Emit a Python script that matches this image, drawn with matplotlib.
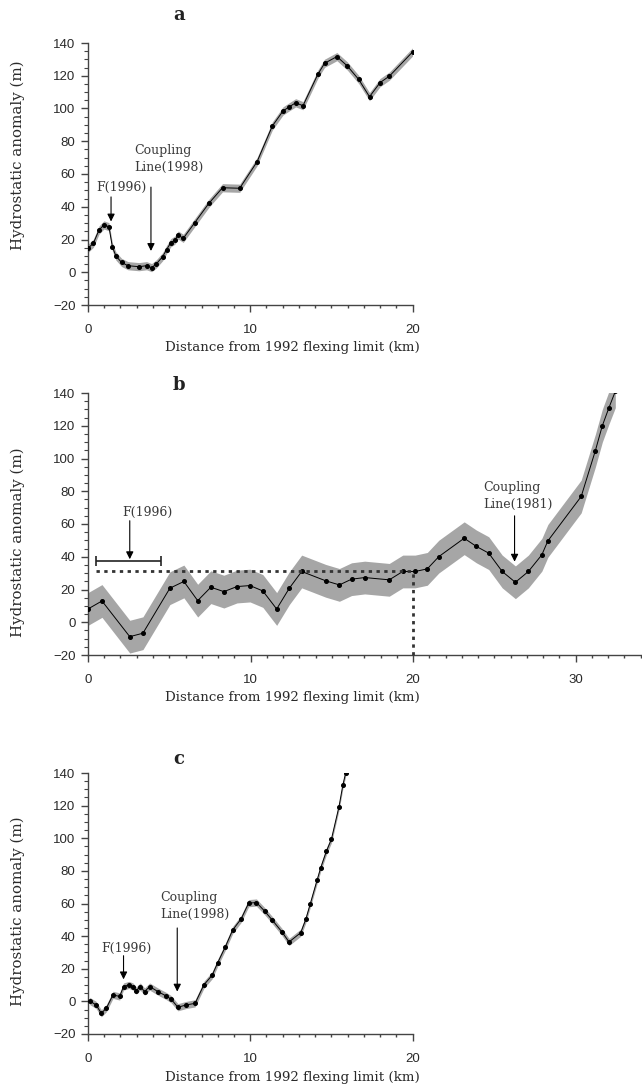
import matplotlib
matplotlib.use("Agg")
import matplotlib.pyplot as plt
from matplotlib.ticker import MultipleLocator
import numpy as np

# ---------------- data ----------------
# Panel a
xa = [0.0, 0.33, 0.68, 0.98, 1.29, 1.5, 1.72, 2.07, 2.46, 3.14, 3.61, 3.92, 4.2, 4.6,
      4.84, 5.1, 5.35, 5.56, 5.87, 6.58, 7.45, 8.29, 9.35, 10.42, 11.36, 12.02, 12.4,
      12.8, 13.25, 14.17, 14.58, 15.34, 15.98, 16.68, 17.35, 18.0, 18.58, 20.0]
ya = [14.6, 17.7, 25.8, 28.9, 27.8, 15.6, 9.9, 6.0, 4.0, 3.4, 4.0, 2.8, 5.0, 9.5,
      13.8, 18.0, 19.6, 22.7, 20.7, 30.3, 42.1, 51.6, 51.3, 67.5, 89.3, 98.5, 101.0,
      103.5, 101.7, 121.0, 127.6, 131.7, 126.0, 117.8, 107.2, 115.8, 119.8, 134.5]
err_a = 2.5

# Panel b
xb = [0.0, 0.86, 2.57, 3.38, 5.04, 5.9, 6.75, 7.56, 8.36, 9.17, 9.97, 10.76, 11.61,
      12.39, 13.15, 14.63, 15.47, 16.22, 17.03, 18.54, 19.37, 20.13, 20.88, 21.59,
      23.15, 23.9, 24.66, 25.49, 26.3, 27.1, 27.93, 28.3, 30.35, 31.22, 31.65, 32.05, 32.45]
yb = [8.1, 13.0, -8.8, -6.7, 20.8, 24.9, 13.2, 21.4, 18.7, 21.8, 22.4, 19.1, 8.1,
      20.8, 31.0, 25.3, 22.8, 26.3, 27.3, 25.9, 31.0, 31.0, 32.6, 40.1,
      51.3, 46.3, 42.2, 31.0, 24.4, 31.0, 41.2, 49.7, 76.8, 104.7, 120.0, 130.8, 141.0]
err_b = 10.0
level_b = 31.0          # dotted horizontal level
cut_b = 20.0            # dotted vertical position
f96_b = (2.5, 37.5, 2.0)  # centre x, y, half width of F(1996) range bar

# Panel c
xc = [0.1, 0.5, 0.82, 1.13, 1.54, 1.95, 2.19, 2.52, 2.77, 2.97, 3.22, 3.49, 3.8,
      4.31, 4.82, 5.13, 5.54, 6.05, 6.6, 7.14, 7.65, 8.0, 8.47, 8.92, 9.44, 9.9,
      10.38, 10.89, 11.36, 11.96, 12.39, 13.11, 13.42, 13.7, 14.13, 14.34, 14.69,
      15.0, 15.47, 15.71, 15.88]
yc = [0.3, -2.2, -7.3, -4.2, 4.0, 3.0, 9.1, 10.1, 9.1, 6.6, 9.1, 6.0, 9.1,
      6.0, 3.3, 1.3, -3.6, -2.2, -1.2, 10.1, 16.0, 23.8, 33.6, 43.8, 50.6, 60.2,
      60.6, 55.3, 49.8, 42.5, 36.4, 42.1, 50.2, 59.8, 74.7, 81.8, 92.0,
      99.3, 119.4, 132.7, 140.0]
err_c = 2.2

xlabel = "Distance from 1992 flexing limit (km)"
ylabel = "Hydrostatic anomaly (m)"

# ---------------- figure ----------------
W, H = 642, 1088
fig = plt.figure(figsize=(W / 100, H / 100), dpi=100)

serif = ["DejaVu Serif"]
sans = ["Liberation Sans", "DejaVu Sans"]
txtcol = "#2a2a2a"
bandcol = "#a6a6a6"


def px_axes(left, right, top, bottom):
    return fig.add_axes([left / W, 1 - bottom / H, (right - left) / W, (bottom - top) / H])


def style(ax, xmax, xmaj):
    ax.set_xlim(0, xmax)
    ax.set_ylim(-20, 140)
    for s in ("top", "right"):
        ax.spines[s].set_visible(False)
    for s in ("left", "bottom"):
        ax.spines[s].set_color("#444444")
        ax.spines[s].set_linewidth(1.0)
    ax.xaxis.set_major_locator(MultipleLocator(xmaj))
    ax.xaxis.set_minor_locator(MultipleLocator(1))
    ax.yaxis.set_major_locator(MultipleLocator(20))
    ax.yaxis.set_minor_locator(MultipleLocator(5))
    ax.tick_params(axis="x", which="major", length=5, width=1, pad=9, color="#444444",
                   labelsize=9.5, labelcolor=txtcol)
    ax.tick_params(axis="x", which="minor", length=2, width=1, color="#444444")
    ax.tick_params(axis="y", which="major", length=5, width=1, pad=4, color="#444444",
                   labelsize=9.5, labelcolor=txtcol)
    ax.tick_params(axis="y", which="minor", length=3, width=0.8, color="#444444")
    for lab in ax.get_xticklabels() + ax.get_yticklabels():
        lab.set_family(sans)


def profile(ax, x, y, err):
    x = np.asarray(x)
    y = np.asarray(y)
    ax.fill_between(x, y - err, y + err, color=bandcol, lw=0, zorder=1)
    ax.plot(x, y, color="black", lw=0.7, marker="o", ms=2.6, zorder=3)


def arrow(ax, x, ytail, ytip):
    ax.annotate("", xy=(x, ytip), xytext=(x, ytail),
                arrowprops=dict(arrowstyle="-|>", color="black", lw=0.8,
                                mutation_scale=11, shrinkA=0, shrinkB=0), zorder=5)


def note(ax, x, y, s, ha="left"):
    ax.text(x, y, s, ha=ha, va="center", fontsize=9, family=serif, color="#3a3a3a",
            linespacing=1.4, zorder=5)


# ----- panel a -----
axa = px_axes(88, 412.5, 43, 305)
style(axa, 20, 10)
profile(axa, xa, ya, err_a)
note(axa, 0.5, 51.5, "F(1996)")
arrow(axa, 1.42, 46, 31)
note(axa, 2.85, 69, "Coupling\nLine(1998)")
arrow(axa, 3.88, 52, 13)

# ----- panel b -----
axb = px_axes(88, 640.5, 393, 655)
style(axb, 34, 10)
profile(axb, xb, yb, err_b)
axb.plot([0.5, cut_b], [level_b, level_b], color="#333333", lw=2,
         linestyle=(0, (1.2, 1.6)), zorder=4)
axb.plot([cut_b, cut_b], [-20, level_b], color="#333333", lw=2,
         linestyle=(0, (1.2, 1.6)), zorder=4, clip_on=False)
axb.errorbar(f96_b[0], f96_b[1], xerr=f96_b[2], fmt="none", ecolor="#222222",
             elinewidth=1.2, capsize=3.5, capthick=1.2, zorder=4)
note(axb, 2.1, 67, "F(1996)")
arrow(axb, 2.57, 62, 38.5)
note(axb, 24.3, 77, "Coupling\nLine(1981)")
arrow(axb, 26.25, 65, 37)

# ----- panel c -----
axc = px_axes(88, 412.5, 773, 1034)
style(axc, 20, 10)
profile(axc, xc, yc, err_c)
note(axc, 0.8, 32.5, "F(1996)")
arrow(axc, 2.19, 28, 13.5)
note(axc, 4.47, 58.5, "Coupling\nLine(1998)")
arrow(axc, 5.5, 45, 6)

# ----- titles and axis labels -----
for letter, (tx, ty) in zip("abc", [(179, 15), (179, 385), (179, 759)]):
    fig.text(tx / W, 1 - ty / H, letter, ha="center", va="center", fontsize=13,
             fontweight="bold", family=serif, color="#222222")

for (lx, ly) in [(292, 348), (292, 698), (292, 1078)]:
    fig.text(lx / W, 1 - ly / H, xlabel, ha="center", va="center", fontsize=9.6,
             family=serif, color=txtcol)

for (lx, ly) in [(18, 155), (18, 542), (18, 911)]:
    fig.text(lx / W, 1 - ly / H, ylabel, ha="center", va="center", fontsize=10.8,
             family=serif, color=txtcol, rotation=90)

fig.savefig("out.png", dpi=100)
